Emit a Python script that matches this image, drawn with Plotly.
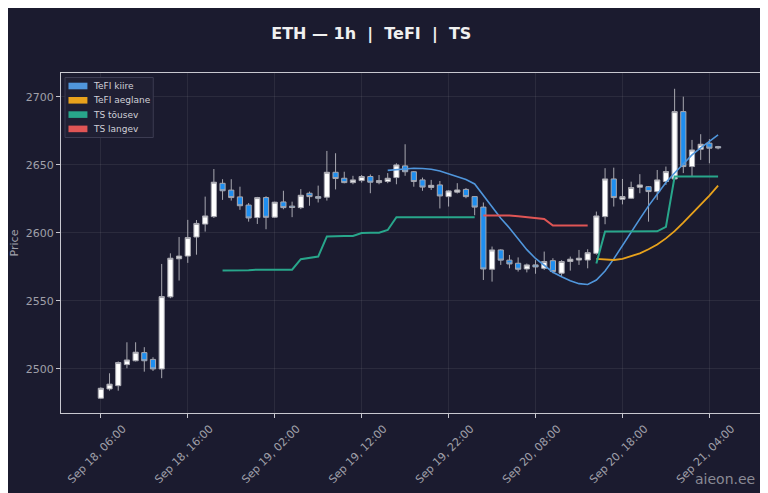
import pandas as pd
import plotly.graph_objects as go

# hourly candles, Sep 18 06:00 .. Sep 21 05:00
times = pd.date_range("2024-09-18 06:00", periods=72, freq="h")

open_ = [2478.5, 2485.3, 2487.7, 2503.2, 2506.0, 2512.0, 2507.0, 2500.0, 2553.0, 2581.0,
         2583.0, 2597.0, 2606.5, 2612.0, 2636.5, 2631.5, 2626.5, 2620.5, 2611.3, 2626.0,
         2611.6, 2622.8, 2619.7, 2618.6, 2629.2, 2626.7, 2626.3, 2644.6, 2640.2, 2637.0,
         2638.5, 2641.5, 2637.0, 2637.8, 2640.7, 2649.3, 2645.0, 2639.0, 2633.5, 2635.3,
         2626.7, 2630.0, 2632.0, 2626.7, 2619.0, 2573.3, 2587.5, 2580.0, 2577.7, 2573.5,
         2576.5, 2574.0, 2579.6, 2570.4, 2579.0, 2580.1, 2580.1, 2585.0, 2612.0, 2639.7,
         2624.8, 2625.5, 2633.6, 2634.0, 2630.4, 2637.8, 2639.7, 2689.2, 2648.8, 2661.5,
         2666.0, 2663.5]
high = [2486.5, 2496.8, 2505.5, 2519.6, 2519.6, 2516.0, 2508.6, 2577.2, 2585.0, 2597.0,
        2609.6, 2609.5, 2626.7, 2647.0, 2639.5, 2639.5, 2634.0, 2622.0, 2626.5, 2627.0,
        2623.0, 2631.0, 2623.0, 2632.2, 2630.4, 2634.8, 2660.3, 2658.6, 2645.0, 2642.0,
        2642.6, 2643.0, 2642.6, 2644.0, 2651.2, 2665.2, 2645.5, 2640.7, 2639.0, 2638.2,
        2631.5, 2636.6, 2633.0, 2627.0, 2622.4, 2590.0, 2588.0, 2583.8, 2582.0, 2577.5,
        2580.0, 2586.3, 2581.4, 2580.0, 2582.6, 2587.5, 2588.0, 2615.7, 2647.6, 2648.0,
        2639.7, 2637.7, 2643.2, 2634.5, 2646.3, 2648.8, 2706.0, 2700.2, 2668.4, 2672.6,
        2669.0, 2664.0]
low = [2478.0, 2484.0, 2484.0, 2500.5, 2505.5, 2498.0, 2498.5, 2493.2, 2552.0, 2565.0,
       2578.0, 2584.0, 2601.0, 2611.0, 2624.3, 2623.8, 2617.0, 2608.3, 2606.6, 2602.7,
       2611.0, 2617.4, 2611.6, 2617.5, 2620.0, 2622.4, 2623.8, 2632.0, 2636.5, 2635.8,
       2637.0, 2629.2, 2635.8, 2636.6, 2635.8, 2642.0, 2634.0, 2631.0, 2631.6, 2618.0,
       2619.4, 2629.0, 2625.5, 2613.0, 2565.4, 2564.2, 2576.5, 2574.0, 2571.6, 2571.0,
       2570.0, 2572.8, 2570.4, 2568.4, 2572.3, 2576.5, 2574.0, 2584.0, 2606.4, 2619.4,
       2621.0, 2625.0, 2629.2, 2608.3, 2624.3, 2635.3, 2639.0, 2644.0, 2641.5, 2653.7,
       2651.2, 2661.5]
close = [2485.8, 2488.8, 2504.7, 2506.6, 2512.3, 2506.0, 2500.0, 2553.2, 2581.4, 2583.0,
         2596.6, 2607.0, 2612.5, 2637.3, 2631.0, 2626.0, 2620.0, 2611.0, 2626.0, 2611.5,
         2622.6, 2618.6, 2618.7, 2627.7, 2626.7, 2625.5, 2644.6, 2640.0, 2637.0, 2639.0,
         2641.5, 2637.3, 2638.5, 2640.2, 2650.0, 2645.0, 2637.8, 2633.7, 2635.0, 2627.2,
         2630.9, 2631.6, 2626.7, 2619.0, 2573.5, 2587.5, 2580.0, 2577.2, 2573.3, 2576.5,
         2575.0, 2579.0, 2571.6, 2579.0, 2580.7, 2581.4, 2585.5, 2612.5, 2639.7, 2626.0,
         2626.7, 2633.4, 2635.3, 2630.4, 2639.0, 2645.1, 2689.2, 2648.8, 2661.0, 2665.2,
         2662.3, 2662.5]

N = None
tefi_fast = [N] * 33 + [
    2646.0, 2646.7, 2647.4, 2647.6, 2647.4, 2646.8, 2645.6, 2643.6, 2641.5, 2639.3,
    2636.0, 2627.8, 2619.5, 2610.8, 2603.7, 2595.6, 2587.7, 2581.2, 2575.8, 2571.1,
    2567.8, 2564.8, 2562.7, 2562.1, 2565.4, 2572.0, 2580.9, 2590.4, 2600.7, 2610.3,
    2619.9, 2628.7, 2637.1, 2644.1, 2651.1, 2657.4, 2662.5, 2667.3, 2672.1]
tefi_slow = [N] * 57 + [
    2581.0, 2580.3, 2580.1, 2581.0, 2582.8, 2585.0, 2588.0, 2591.5, 2596.0, 2601.3,
    2607.5, 2614.0, 2620.6, 2627.5, 2634.8]
ts_up = [N] * 14 + [
    2572.3, 2572.3, 2572.3, 2572.6, 2573.0, 2573.0, 2573.0, 2573.0, 2573.0, 2580.7,
    2581.6, 2582.6, 2597.4, 2597.8, 2597.8, 2597.8, 2600.0, 2600.2, 2600.2, 2602.2,
    2611.6, 2611.6, 2611.6, 2611.6, 2611.6, 2611.6, 2611.6, 2611.6, 2611.6, 2611.6,
] + [N] * 13 + [
    2577.5, 2601.0, 2601.0, 2601.0, 2601.0, 2601.0, 2601.0, 2601.2, 2604.5, 2641.5,
    2641.5, 2641.5, 2641.5, 2641.5, 2641.5]
ts_down = [N] * 44 + [
    2612.8, 2612.8, 2612.8, 2612.8, 2612.2, 2611.5, 2611.0, 2610.3, 2605.4, 2605.4,
    2605.4, 2605.4, 2605.4] + [N] * 15

BG = "#1b1b2f"
C_FAST = "#5096dc"
C_SLOW = "#e8a21c"
C_UP = "#28a68b"
C_DOWN = "#e05555"

# plot box in page pixels (page has an 8px body margin)
PX0, PX1, PY0, PY1 = 60, 764, 73, 413


def px(x):
    return (x - PX0) / (PX1 - PX0)


def py(y):
    return (PY1 - y) / (PY1 - PY0)


fig = go.Figure()

fig.add_trace(go.Candlestick(
    x=times, open=open_, high=high, low=low, close=close,
    increasing=dict(fillcolor="#ffffff", line=dict(color="#a8a8b0", width=1)),
    decreasing=dict(fillcolor="#1e8ef0", line=dict(color="#a8a8b0", width=1)),
    whiskerwidth=0, showlegend=False, hoverinfo="skip",
))

lines = [
    ("TeFI kiire", tefi_fast, C_FAST, 1.6),
    ("TeFI aeglane", tefi_slow, C_SLOW, 1.8),
    ("TS tõusev", ts_up, C_UP, 2.0),
    ("TS langev", ts_down, C_DOWN, 2.0),
]
for name, vals, col, w in lines:
    fig.add_trace(go.Scatter(x=times, y=vals, mode="lines", name=name,
                             line=dict(color=col, width=w), showlegend=False))

# legend drawn as a small box with colour patches
shapes = [dict(type="rect", xref="paper", yref="paper",
               x0=px(64), x1=px(152.5), y0=py(137.5), y1=py(77.5),
               fillcolor="#1f1f33", line=dict(color="#3c3c52", width=1))]
annotations = []
for k, (name, vals, col, w) in enumerate(lines):
    yc = 86 + 14.3 * k
    shapes.append(dict(type="rect", xref="paper", yref="paper",
                       x0=px(67.5), x1=px(86.5), y0=py(yc + 3.3), y1=py(yc - 3.3),
                       fillcolor=col, line=dict(width=0)))
    annotations.append(dict(text=name, xref="paper", yref="paper",
                            x=px(90), y=py(yc), xanchor="left", yanchor="middle",
                            showarrow=False,
                            font=dict(size=9, color="#d0d0d8")))
annotations.append(dict(text="aieon.ee", xref="paper", yref="paper",
                        x=px(758), y=py(479), xanchor="right", yanchor="middle",
                        showarrow=False, font=dict(size=14, color="#8a8a95")))

fig.update_layout(
    width=760, height=485,
    paper_bgcolor=BG, plot_bgcolor=BG,
    font=dict(family="DejaVu Sans", color="#a0a0aa", size=11),
    margin=dict(l=52, r=4, t=65, b=80),
    title=dict(text="<b>ETH — 1h  |  TeFI  |  TS</b>", x=0.478, xref="container",
               xanchor="center", y=0.948, yanchor="middle",
               font=dict(size=16, color="#f0f0f0")),
    showlegend=False,
    boxgap=0.15,
    shapes=shapes,
    annotations=annotations,
)
fig.update_xaxes(
    range=["2024-09-18 01:25", "2024-09-21 10:10"],
    rangeslider=dict(visible=False),
    tick0="2024-09-18 06:00", dtick=10 * 3600 * 1000,
    tickformat="%b %d, %H:%M", tickangle=-45, ticklabelshift=22,
    ticks="outside", ticklen=4, tickcolor="#c8c8d0",
    showgrid=True, gridcolor="rgba(255,255,255,0.07)",
    showline=True, linecolor="#c8c8d0", linewidth=1, mirror=True,
    zeroline=False,
)
fig.update_yaxes(
    range=[2467.6, 2717.6], dtick=50,
    title=dict(text="Price", standoff=6, font=dict(size=11, color="#a0a0aa")),
    ticks="outside", ticklen=4, tickcolor="#c8c8d0",
    showgrid=True, gridcolor="rgba(255,255,255,0.07)",
    showline=True, linecolor="#c8c8d0", linewidth=1, mirror=True,
    zeroline=False,
)

fig.write_html("out.html")
